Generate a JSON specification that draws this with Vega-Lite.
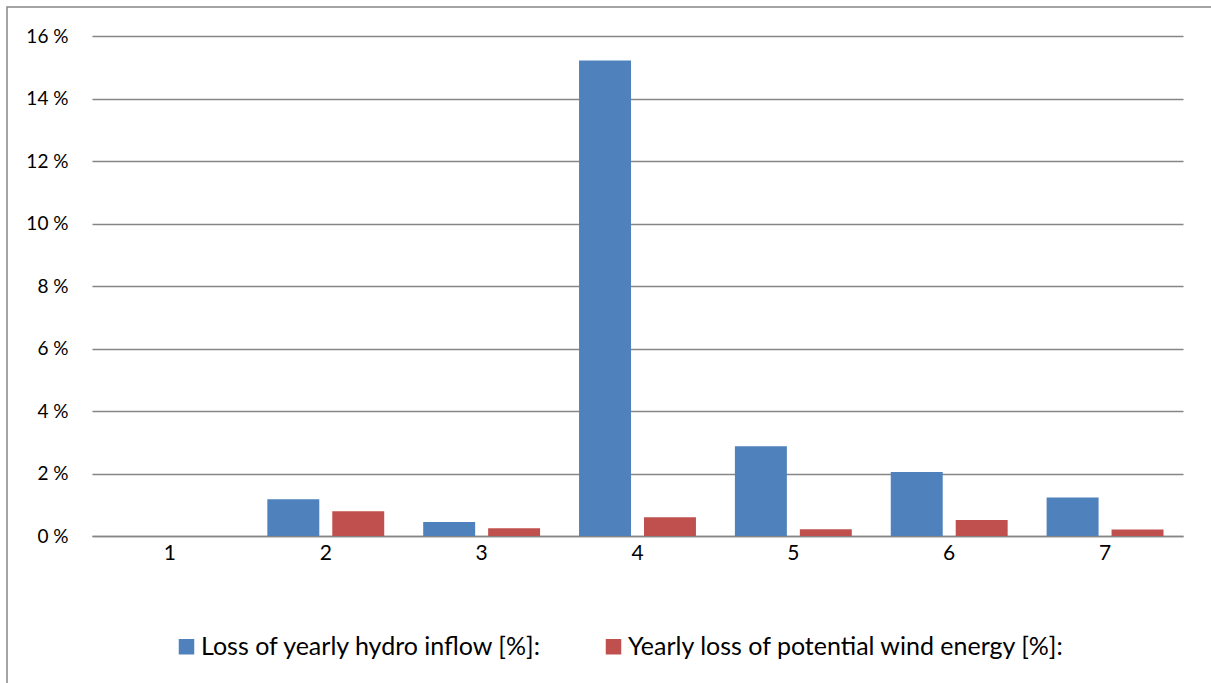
{
  "$schema": "https://vega.github.io/schema/vega-lite/v6.json",
  "width": 1220,
  "height": 690,
  "autosize": {"type": "none"},
  "padding": {"left": 7, "top": 7, "right": 0, "bottom": 0},
  "background": "white",
  "data": {
    "values": [
      {"case": "1", "series": "Loss of yearly hydro inflow [%]:", "loss": 0},
      {"case": "1", "series": "Yearly loss of potential wind energy [%]:", "loss": 0},
      {"case": "2", "series": "Loss of yearly hydro inflow [%]:", "loss": 1.18},
      {"case": "2", "series": "Yearly loss of potential wind energy [%]:", "loss": 0.79},
      {"case": "3", "series": "Loss of yearly hydro inflow [%]:", "loss": 0.45},
      {"case": "3", "series": "Yearly loss of potential wind energy [%]:", "loss": 0.25},
      {"case": "4", "series": "Loss of yearly hydro inflow [%]:", "loss": 15.22},
      {"case": "4", "series": "Yearly loss of potential wind energy [%]:", "loss": 0.6},
      {"case": "5", "series": "Loss of yearly hydro inflow [%]:", "loss": 2.87},
      {"case": "5", "series": "Yearly loss of potential wind energy [%]:", "loss": 0.22},
      {"case": "6", "series": "Loss of yearly hydro inflow [%]:", "loss": 2.05},
      {"case": "6", "series": "Yearly loss of potential wind energy [%]:", "loss": 0.51},
      {"case": "7", "series": "Loss of yearly hydro inflow [%]:", "loss": 1.23},
      {"case": "7", "series": "Yearly loss of potential wind energy [%]:", "loss": 0.21}
    ]
  },
  "mark": {"type": "bar"},
  "encoding": {
    "x": {
      "field": "case",
      "type": "ordinal",
      "scale": {"range": [85, 1176], "paddingInner": 0.25, "paddingOuter": 0.125},
      "axis": {
        "title": null,
        "offset": -161,
        "labelAngle": 0,
        "labelFont": "Lato",
        "labelFontSize": 21,
        "labelColor": "#000000",
        "labelPadding": 6,
        "ticks": false,
        "domainColor": "#868686",
        "domainWidth": 1.5
      }
    },
    "xOffset": {
      "field": "series",
      "type": "nominal",
      "sort": ["Loss of yearly hydro inflow [%]:", "Yearly loss of potential wind energy [%]:"],
      "scale": {"paddingInner": 0.2, "paddingOuter": 0}
    },
    "y": {
      "field": "loss",
      "type": "quantitative",
      "scale": {"domain": [0, 16], "nice": false, "range": [529, 29]},
      "axis": {
        "title": null,
        "offset": -85,
        "values": [0, 2, 4, 6, 8, 10, 12, 14, 16],
        "labelExpr": "datum.value + ' %'",
        "labelFont": "Lato",
        "labelFontSize": 19,
        "labelColor": "#000000",
        "labelPadding": 24,
        "ticks": false,
        "domain": false,
        "gridColor": "#868686",
        "gridWidth": 1.3
      }
    },
    "color": {
      "field": "series",
      "type": "nominal",
      "scale": {
        "domain": ["Loss of yearly hydro inflow [%]:", "Yearly loss of potential wind energy [%]:"],
        "range": ["#4F81BD", "#C0504D"]
      },
      "legend": {
        "title": null,
        "orient": "none",
        "legendX": 167,
        "legendY": 627,
        "direction": "horizontal",
        "symbolType": "square",
        "symbolSize": 240,
        "symbolStrokeWidth": 0,
        "labelFont": "Lato",
        "labelFontSize": 25,
        "labelColor": "#000000",
        "labelLimit": 700,
        "labelOffset": 2,
        "columnPadding": 58
      }
    }
  },
  "config": {
    "view": {"stroke": "#878787", "strokeWidth": 1.5}
  }
}
